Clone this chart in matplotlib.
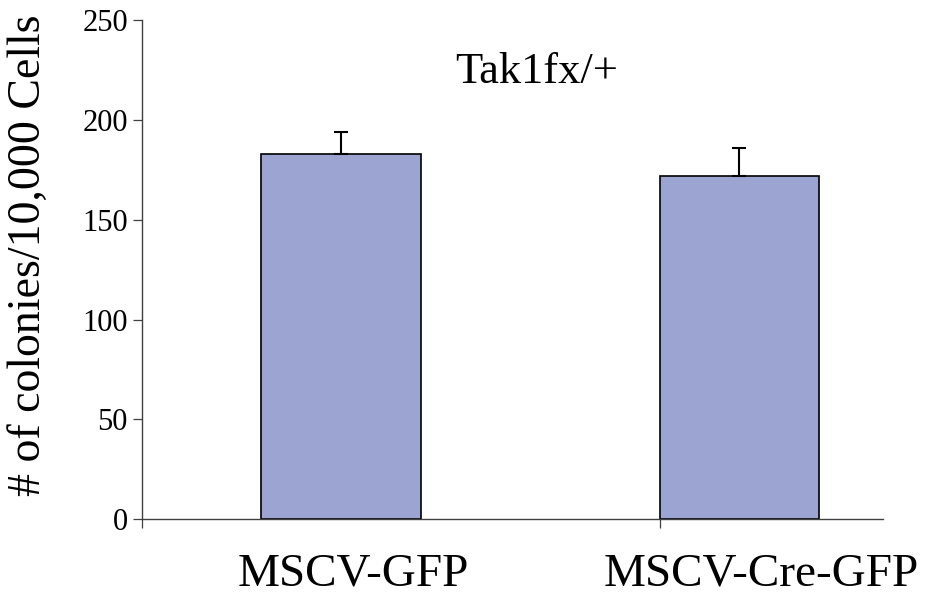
import matplotlib
matplotlib.use("Agg")
import matplotlib.pyplot as plt
import matplotlib.transforms as mtransforms
import numpy as np

# colony counts per 10,000 cells, mean and upper error
groups = ["MSCV-GFP", "MSCV-Cre-GFP"]
colonies = [183, 172]
err_up = [11, 14]
title = "Tak1fx/+"
ylabel = "# of colonies/10,000 Cells"
yticks = [0, 50, 100, 150, 200, 250]

plt.rcParams["font.family"] = ["Liberation Serif", "DejaVu Serif"]

fig = plt.figure(figsize=(9.34, 5.95), dpi=100)
ax = fig.add_axes([0.1517, 0.1272, 0.9451 - 0.1517, 0.9664 - 0.1272])

x = np.arange(len(groups))
bar_w = 0.4
ax.bar(x, colonies, width=bar_w, color="#9ca5d2", edgecolor="black",
       linewidth=1.2, zorder=2)
ax.errorbar(x, colonies, yerr=[np.zeros(len(err_up)), err_up], fmt="none",
            ecolor="black", elinewidth=1.5, capsize=4.7, capthick=1.5, zorder=3)

ax.set_ylim(0, 250)
ax.set_xlim(-0.5, 1.36)
ax.set_yticks(yticks)
ax.tick_params(axis="y", direction="out", length=6.3, width=0.9, color="#404040",
               pad=3.6, labelsize=22)

# category labels sit a little right of the bar centres
ax.set_xticks(x)
ax.set_xticklabels(groups, fontsize=34)
ax.tick_params(axis="x", which="major", length=0, pad=24)
shifts = [12, 22]
for lab, dx in zip(ax.get_xticklabels(), shifts):
    lab.set_transform(lab.get_transform() +
                      mtransforms.ScaledTranslation(dx / 100, 0, fig.dpi_scale_trans))
ax.set_xticks([-0.5, x[1] - bar_w / 2], minor=True)
ax.tick_params(axis="x", which="minor", direction="out", length=6.3, width=0.9,
               color="#404040")

for side in ["top", "right"]:
    ax.spines[side].set_visible(False)
for side in ["left", "bottom"]:
    ax.spines[side].set_color("#404040")
    ax.spines[side].set_linewidth(1.0)

fig.text(29 / 934, 1 - 255 / 595, ylabel, rotation=90, ha="center", va="center",
         fontsize=33)
fig.text(537 / 934, 1 - 83 / 595, title, ha="center", va="baseline", fontsize=32)

fig.savefig("out.png", dpi=100)
